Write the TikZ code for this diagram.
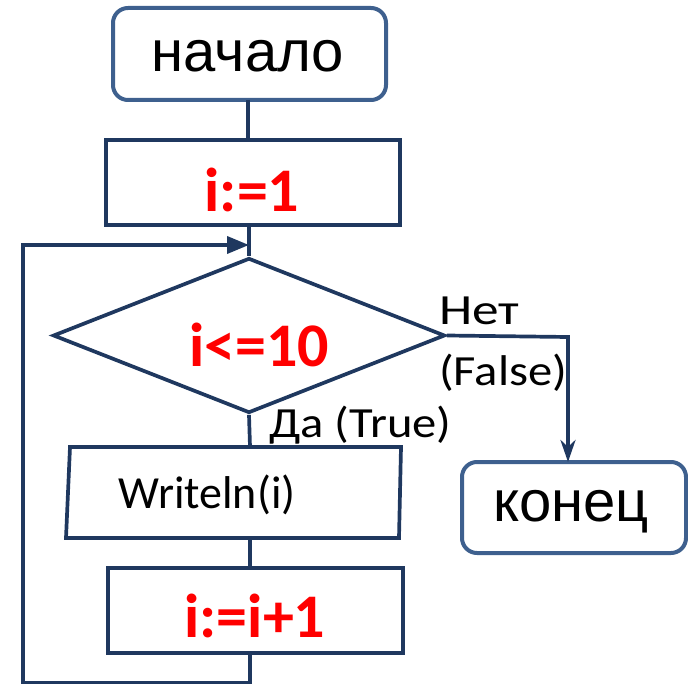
\documentclass[tikz,border=0pt]{standalone}
\usepackage{fontspec}
\usepackage{graphicx}
\setmainfont{Carlito}
\newfontfamily\arialf{Liberation Sans}
\usetikzlibrary{shapes.geometric,arrows.meta}
\definecolor{startc}{RGB}{62,96,142}
\definecolor{navy}{RGB}{31,56,95}
\definecolor{redc}{RGB}{255,0,0}
\tikzset{
  termbox/.style={draw=startc, line width=4pt, rounded corners=15pt, inner sep=0pt},
  procbox/.style={draw=navy, line width=3.7pt, inner sep=0pt},
  conn/.style={draw=navy, line width=3.7pt},
  bigtxt/.style={font=\arialf\fontsize{58}{60}\selectfont, inner sep=0pt},
  redtxt/.style={font=\bfseries\fontsize{62}{64}\selectfont, text=redc, inner sep=0pt, anchor=base},
  lbl/.style={font=\fontsize{43}{45}\selectfont, inner sep=0pt, anchor=base west}
}
\begin{document}
\begin{tikzpicture}[x=1pt,y=-1pt]
\useasboundingbox (0,0) rectangle (688,684);
% boxes
\node[termbox, minimum width=273pt, minimum height=92pt] (start) at (249.5,54) {};
\node[bigtxt] (starttxt) at (248,56) {начало};
\node[procbox, minimum width=294pt, minimum height=85pt] (init) at (253,182.5) {};
\node[redtxt] (inittxt) at (252,212) {i:=1};
\node[draw=navy, line width=3.7pt, diamond, inner sep=0pt, minimum width=392pt, minimum height=155pt] (cond) at (249,335.5) {};
\node[redtxt] (condtxt) at (259,367) {i<=10};
% write box (slightly skewed)
\coordinate (w1) at (70,447);
\coordinate (w2) at (401,447);
\coordinate (w3) at (399,538);
\coordinate (w4) at (66,538);
\draw[navy, line width=3.7pt] (w1) -- (w2) -- (w3) -- (w4) -- cycle;
\node[minimum width=332pt, minimum height=91pt, inner sep=0pt] (write) at (250,492.5) {};
\node[font=\fontsize{46}{48}\selectfont, inner sep=0pt, anchor=base] (writetxt) at (207,508) {Writeln(i)};
\node[procbox, minimum width=295pt, minimum height=85pt] (inc) at (255.5,610.5) {};
\node[redtxt] (inctxt) at (255,637) {i:=i+1};
\node[termbox, minimum width=224pt, minimum height=91pt] (end) at (574,507.5) {};
\node[bigtxt] (endtxt) at (571,512) {конец};
% labels
\node[lbl] (no) at (439,325) {\scalebox{1.24}[1]{Нет}};
\node[lbl] (nofalse) at (439,385) {\scalebox{1.13}[1]{(False)}};
\node[lbl] (yes) at (269,437) {\scalebox{1.13}[1]{Да (True)}};
% connectors
\coordinate (a1) at (248,100);
\coordinate (a2) at (248,140);
\draw[conn] (a1) -- (a2);
\coordinate (b1) at (249,225);
\draw[conn] (b1) -- (cond.north);
\draw[conn] (cond.south) -- (write.north);
\draw[conn] (write.south) -- (inc.north -| write.south);
\coordinate (l0) at (250,653);
\coordinate (l1) at (250,683);
\coordinate (l2) at (23,683);
\coordinate (l3) at (23,245);
\coordinate (l4) at (249,245);
\draw[conn, -{Triangle[length=22pt,width=17pt]}] (l0) -- (l1) -- (l2) -- (l3) -- (l4);
\coordinate (f1) at (568,337);
\coordinate (f2) at (568,462);
\draw[conn, -{Stealth[length=22pt,width=15pt,inset=7pt]}] (cond.east) -- (f1) -- (f2);
\end{tikzpicture}
\end{document}
